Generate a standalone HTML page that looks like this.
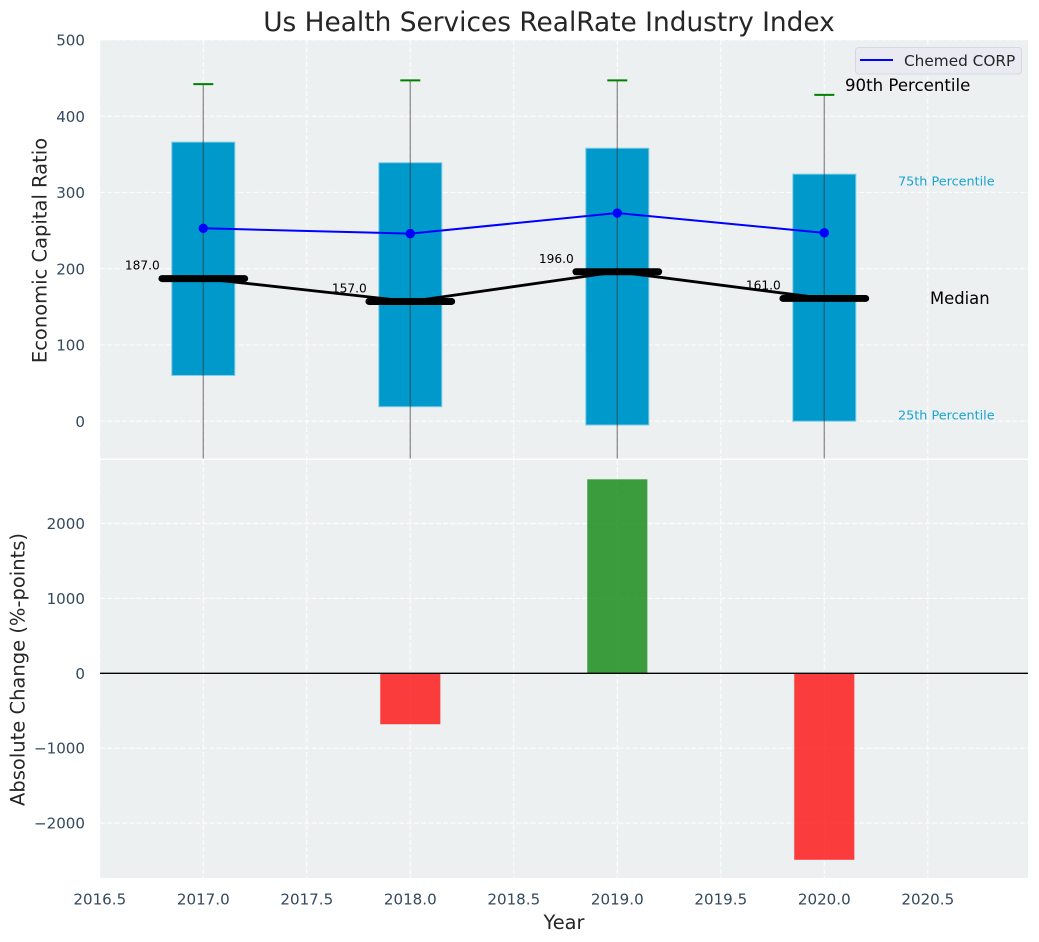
<!DOCTYPE html>
<html lang="en">
<head>
<meta charset="utf-8">
<title>Us Health Services RealRate Industry Index</title>
<style>
html,body{margin:0;padding:0;background:#fff;}
svg{display:block;font-family:"DejaVu Sans","Liberation Sans",sans-serif;}
</style>
</head>
<body>
<svg id="chart" xmlns="http://www.w3.org/2000/svg" width="1039" height="942" viewBox="0 0 1039 942"></svg>
<script>
const years = [2017, 2018, 2019, 2020];
const p90 = [442, 447, 447, 428];
const p75 = [366, 339, 358, 324];
const medians = [187, 157, 196, 161];
const p25 = [60, 19, -5, 0];
const p10 = [-120, -120, -120, -120];
const company = [253, 246, 273, 247];
const changeYears = [2018, 2019, 2020];
const changes = [-680, 2590, -2490];
const xTicks = [2016.5, 2017, 2017.5, 2018, 2018.5, 2019, 2019.5, 2020, 2020.5];
const topTicks = [0, 100, 200, 300, 400, 500];
const bottomTicks = [-2000, -1000, 0, 1000, 2000];

const L = 100, R = 1028, T1 = 40, B1 = 458.5, T2 = 460, B2 = 878;
const X = v => 203.3 + (v - 2017) * 207;
const Y1 = v => 421.2 - v * 0.7625;
const Y2 = v => 673.3 - v * 0.0749;
const NS = 'http://www.w3.org/2000/svg';
const svg = document.getElementById('chart');

function make(tag, attrs, parent) {
  const el = document.createElementNS(NS, tag);
  for (const k in attrs) el.setAttribute(k, attrs[k]);
  (parent || svg).appendChild(el);
  return el;
}
function label(str, x, y, size, fill, anchor, parent) {
  const el = make('text', {x: x, y: y, 'font-size': size, fill: fill, 'text-anchor': anchor || 'middle'}, parent);
  el.textContent = str;
  return el;
}
const minus = v => String(v).replace('-', '\u2212');

const defs = make('defs', {});
const c1 = make('clipPath', {id: 'clip-top'}, defs);
make('rect', {x: L, y: T1, width: R - L, height: B1 - T1}, c1);

let el;
el = make('rect', {x: L, y: T1, width: R - L, height: B1 - T1, fill: '#ecf0f1'});


el = make('rect', {x: L, y: T2, width: R - L, height: B2 - T2, fill: '#ecf0f1'});



const gridAttrs = {stroke: '#fff', 'stroke-width': 1.2, 'stroke-dasharray': '5.1,2.2', opacity: 0.85};
xTicks.forEach(v => {
  el = make('line', Object.assign({x1: X(v), x2: X(v), y1: T1, y2: B1}, gridAttrs));
  
  
  el = make('line', Object.assign({x1: X(v), x2: X(v), y1: T2, y2: B2}, gridAttrs));
  
  
  el = label(v.toFixed(1), X(v), 904.5, 15.1, '#34495e');
  
  
});
topTicks.forEach(v => {
  el = make('line', Object.assign({x1: L, x2: R, y1: Y1(v), y2: Y1(v)}, gridAttrs));
  
  
  el = label(minus(v), 85, Y1(v) + 5.7, 15.1, '#34495e', 'end');
  
  
});
bottomTicks.forEach(v => {
  el = make('line', Object.assign({x1: L, x2: R, y1: Y2(v), y2: Y2(v)}, gridAttrs));
  
  
  el = label(minus(v), 85, Y2(v) + 5.5, 15.1, '#34495e', 'end');
  
  
});

const topGroup = make('g', {'clip-path': 'url(#clip-top)'});



years.forEach((yr, i) => {
  el = make('rect', {x: X(yr) - 31.5, width: 63, y: Y1(p75[i]), height: Y1(p25[i]) - Y1(p75[i]), fill: '#0099cc', stroke: '#7fcbe5', 'stroke-width': 1}, topGroup);
  
  
});
years.forEach((yr, i) => {
  el = make('line', {x1: X(yr), x2: X(yr), y1: Y1(p90[i]), y2: Y1(p10[i]), stroke: '#333', 'stroke-width': 1.4, opacity: 0.5}, topGroup);
  
  
  el = make('line', {x1: X(yr) - 10, x2: X(yr) + 10, y1: Y1(p90[i]), y2: Y1(p90[i]), stroke: 'green', 'stroke-width': 2}, topGroup);
  
  
});

el = make('polyline', {points: years.map((yr, i) => X(yr) + ',' + Y1(medians[i])).join(' '), fill: 'none', stroke: '#000', 'stroke-width': 2.8}, topGroup);


years.forEach((yr, i) => {
  el = make('line', {x1: X(yr) - 41.4, x2: X(yr) + 41.4, y1: Y1(medians[i]), y2: Y1(medians[i]), stroke: '#000', 'stroke-width': 6.9, 'stroke-linecap': 'round'}, topGroup);
  
  
  el = label(medians[i].toFixed(1), X(yr) - 43.5, Y1(medians[i]) - 9, 12.2, '#000', 'end', topGroup);
  
  
});

el = make('polyline', {points: years.map((yr, i) => X(yr) + ',' + Y1(company[i])).join(' '), fill: 'none', stroke: '#0000ff', 'stroke-width': 2}, topGroup);


years.forEach((yr, i) => {
  el = make('circle', {cx: X(yr), cy: Y1(company[i]), r: 4.7, fill: '#0000ff'}, topGroup);
  
  
});

changeYears.forEach((yr, i) => {
  const v = changes[i];
  el = make('rect', {x: X(yr) - 31.05 + 1, width: 60.1, y: Math.min(Y2(0), Y2(v)), height: Math.abs(Y2(v) - Y2(0)), fill: v >= 0 ? 'green' : 'red', opacity: 0.75});
  
  
});
el = make('line', {x1: L, x2: R, y1: Y2(0), y2: Y2(0), stroke: '#000', 'stroke-width': 1.4});



el = label('90th Percentile', 845, 91, 16.6, '#000', 'start');


el = label('75th Percentile', 898, 185.5, 12.8, '#1aa3d1', 'start');


el = label('Median', 930, 304, 16.4, '#000', 'start');


el = label('25th Percentile', 898, 419.5, 12.8, '#1aa3d1', 'start');



const legend = make('g', {});


el = make('rect', {x: 855.5, y: 47.5, width: 166, height: 26.5, rx: 3, fill: '#eaeaf2', stroke: '#d8d8de', 'stroke-width': 1}, legend);


el = make('line', {x1: 860, x2: 893, y1: 60, y2: 60, stroke: '#0000ff', 'stroke-width': 2}, legend);


el = label('Chemed CORP', 904, 66, 15.3, '#262626', 'start', legend);



el = label('Us Health Services RealRate Industry Index', 549, 31, 26.4, '#262626');


el = label('Year', 564, 929, 19.4, '#262626');


el = label('Economic Capital Ratio', 0, 0, 19.5, '#262626');
el.setAttribute('transform', 'translate(46.5 250.5) rotate(-90)');


el = label('Absolute Change (%-points)', 0, 0, 19.5, '#262626');
el.setAttribute('transform', 'translate(24.5 669.5) rotate(-90)');


</script>
</body>
</html>
